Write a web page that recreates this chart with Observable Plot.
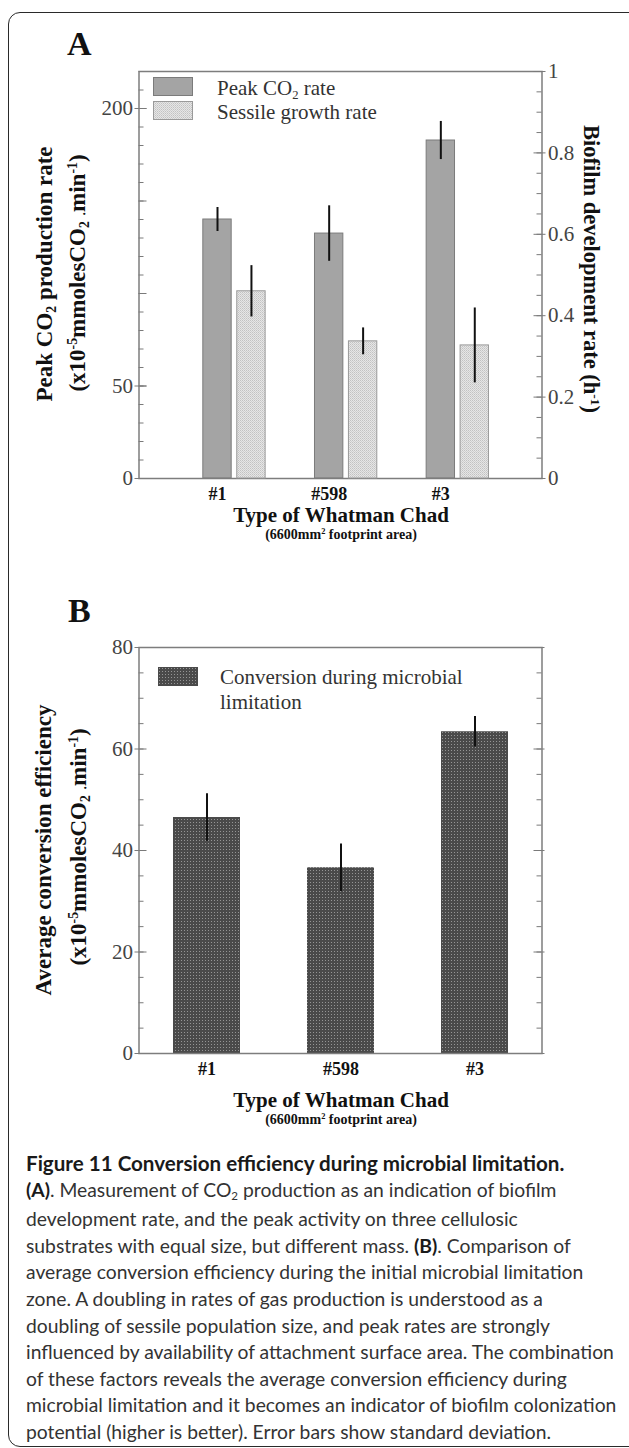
<!DOCTYPE html>
<html><head><meta charset="utf-8">
<script src="https://cdn.jsdelivr.net/npm/d3@7"></script>
<script src="https://cdn.jsdelivr.net/npm/@observablehq/plot@0.6"></script>
<style>
body{margin:0;background:#fff;}
#page{position:relative;width:629px;height:1448px;overflow:hidden;background:#fff;font-family:"Liberation Serif",serif;}
#box{position:absolute;left:8px;top:12px;width:680px;height:1435px;border:1.5px solid #2a2a2a;border-radius:12px;box-sizing:border-box;}
.abs{position:absolute;}
.plot{position:absolute;left:0;}
.rotL{position:absolute;white-space:nowrap;transform:translate(-50%,-50%) rotate(-90deg);font-weight:bold;font-size:23px;color:#111;line-height:1;}
.rotR{position:absolute;white-space:nowrap;transform:translate(-50%,-50%) rotate(90deg);font-weight:bold;font-size:22.5px;color:#111;line-height:1;}
.ctr{position:absolute;white-space:nowrap;transform:translate(-50%,-50%);font-weight:bold;color:#111;line-height:1;}
.sup{font-size:0.6em;position:relative;top:-0.55em;}
.sub{font-size:0.6em;position:relative;top:0.3em;}
.panel{position:absolute;font-weight:bold;font-size:34px;line-height:1;color:#111;}
.leg{position:absolute;white-space:nowrap;font-size:21px;color:#333;line-height:1;transform:translateY(-50%);}
#caption{position:absolute;left:26px;top:1150px;font-family:Lato,"Open Sans",sans-serif;font-size:19.3px;line-height:26.6px;color:#333;}
#caption div{white-space:nowrap;}
#caption b{color:#1a1a1a;}
#caption .title{font-size:20.6px;font-weight:bold;color:#1a1a1a;}
</style></head>
<body>
<div id="page">
<svg width="0" height="0" style="position:absolute">
  <defs>
    <pattern id="sessileFill" width="2" height="2" patternUnits="userSpaceOnUse">
      <rect width="2" height="2" fill="#e6e6e6"/>
      <rect width="1" height="1" fill="#c2c2c2"/>
      <rect x="1" y="1" width="1" height="1" fill="#cfcfcf"/>
    </pattern>
    <pattern id="convFill" width="3" height="3" patternUnits="userSpaceOnUse">
      <rect width="3" height="3" fill="#4a4a4a"/>
      <rect x="1" y="1" width="1" height="1" fill="#959595"/>
    </pattern>
  </defs>
</svg>
<div id="box"></div>
<div class="panel" style="left:67px;top:27px;">A</div>
<div class="panel" style="left:68px;top:594px;">B</div>
<div id="plotA" class="plot" style="top:50px;"></div>
<div id="plotA2" class="plot" style="top:50px;"></div>
<div id="plotB" class="plot" style="top:620px;"></div>

<!-- legend A -->
<svg class="abs" style="left:153px;top:77px;" width="40" height="19"><rect x="0.5" y="0.5" width="39" height="18" fill="#a4a4a4" stroke="#7b7b7b"/></svg>
<div class="leg" style="left:217px;top:88px;">Peak CO<span class="sub">2</span> rate</div>
<svg class="abs" style="left:153px;top:101px;" width="40" height="19"><rect x="0.5" y="0.5" width="39" height="18" fill="url(#sessileFill)" stroke="#9a9a9a"/></svg>
<div class="leg" style="left:217px;top:112px;">Sessile growth rate</div>
<!-- legend B -->
<svg class="abs" style="left:158px;top:667px;" width="40" height="19"><rect x="0" y="0" width="40" height="19" fill="url(#convFill)"/></svg>
<div class="leg" style="left:220px;top:677px;">Conversion during microbial</div>
<div class="leg" style="left:220px;top:702px;">limitation</div>

<!-- axis titles -->
<div class="rotL" style="left:44px;top:274px;">Peak CO<span class="sub">2</span> production rate</div>
<div class="rotL" style="left:77px;top:273px;">(x10<span class="sup">-5</span>mmolesCO<span class="sub">2</span> <span class="sub">∙</span>min<span class="sup">-1</span>)</div>
<div class="rotR" style="left:591px;top:269px;">Biofilm development rate (h<span class="sup">-1</span>)</div>
<div class="ctr" style="left:341px;top:515px;font-size:21px;">Type of Whatman Chad</div>
<div class="ctr" style="left:341px;top:535px;font-size:14px;">(6600mm<span class="sup">2</span> footprint area)</div>

<div class="rotL" style="left:43px;top:850px;">Average conversion efficiency</div>
<div class="rotL" style="left:78px;top:847px;">(x10<span class="sup">-5</span>mmolesCO<span class="sub">2</span> <span class="sub">∙</span>min<span class="sup">-1</span>)</div>
<div class="ctr" style="left:341px;top:1100px;font-size:21px;">Type of Whatman Chad</div>
<div class="ctr" style="left:341px;top:1120px;font-size:14px;">(6600mm<span class="sup">2</span> footprint area)</div>

<div id="caption">
<div class="title">Figure 11 Conversion efficiency during microbial limitation.</div>
<div><b>(A)</b>. Measurement of CO<span class="sub">2</span> production as an indication of biofilm</div>
<div>development rate, and the peak activity on three cellulosic</div>
<div>substrates with equal size, but different mass. <b>(B)</b>. Comparison of</div>
<div>average conversion efficiency during the initial microbial limitation</div>
<div>zone. A doubling in rates of gas production is understood as a</div>
<div>doubling of sessile population size, and peak rates are strongly</div>
<div>influenced by availability of attachment surface area. The combination</div>
<div>of these factors reveals the average conversion efficiency during</div>
<div>microbial limitation and it becomes an indicator of biofilm colonization</div>
<div>potential (higher is better). Error bars show standard deviation.</div>
</div>
</div>

<script>
// ---- data ----
const categories = ["#1", "#598", "#3"];
const peakCO2 = [140, 132.4, 182.7];
const peakCO2Sd = [6.5, 15, 10.3];
const sessileRate = [0.46, 0.337, 0.327];
const sessileSd = [0.063, 0.033, 0.092];
const conversion = [46.5, 36.6, 63.4];
const conversionSd = [4.7, 4.7, 3.0];

const leftLabelsA = [0, 50, 200];
const leftMajorA = [0, 50, 100, 150, 200];
const leftMinorA = d3.range(0, 221, 10);
const rightMajorA = [0, 0.2, 0.4, 0.6, 0.8, 1];
const rightMinorA = d3.range(0, 21).map(k => k * 0.05);
const leftMajorB = [0, 20, 40, 60, 80];
const leftMinorB = d3.range(0, 81, 5);

// ---- layout ----
const W = 629, ML = 138.5, MR = 87.5, FW = W - ML - MR;
const tableA = categories.map((c, i) => ({i, cat: c, peak: peakCO2[i], peakSd: peakCO2Sd[i], sessile: sessileRate[i], sessileSd: sessileSd[i]}));
const tableB = categories.map((c, i) => ({cat: c, conv: conversion[i], sd: conversionSd[i]}));
const half = 0.127, sessOff = 0.304;
const xDomA = [-0.703, 2.906];
const style = {fontFamily: "Liberation Serif, serif", fontSize: "21px", background: "transparent", overflow: "visible"};
const tickC = "#7a7a7a", labC = "#444";

const plotA = Plot.plot({
  width: W, height: 460, marginLeft: ML, marginRight: MR, marginTop: 21, marginBottom: 32,
  x: {domain: xDomA, axis: null},
  y: {domain: [0, 220], axis: null},
  style,
  marks: [
    Plot.rectY(tableA, {x1: d => d.i - half, x2: d => d.i + half, y: "peak", fill: "#a4a4a4", stroke: "#7b7b7b", strokeWidth: 1}),
    Plot.ruleX(tableA, {x: "i", y1: d => d.peak - d.peakSd, y2: d => d.peak + d.peakSd, stroke: "#111", strokeWidth: 2}),
    Plot.tickY(leftMinorA, {y: d => d, insetRight: FW - 5, stroke: tickC}),
    Plot.tickY(leftMajorA, {y: d => d, insetRight: FW - 8, stroke: tickC}),
    Plot.tickY(leftLabelsA, {y: d => d, insetLeft: -4, insetRight: FW - 8, stroke: tickC}),
    Plot.frame({stroke: "#7d7d7d", strokeWidth: 1.5}),
    Plot.axisY({ticks: leftLabelsA, anchor: "left", tickSize: 0, tickPadding: 6, fill: labC, fontSize: 21, label: null}),
    Plot.axisX({ticks: [0, 1, 2], tickFormat: i => categories[i], anchor: "bottom", tickSize: 0, tickPadding: 9, fontSize: 18, fontWeight: "bold", fill: "#111", label: null})
  ]
});
document.getElementById("plotA").appendChild(plotA);

const plotA2 = Plot.plot({
  width: W, height: 460, marginLeft: ML, marginRight: MR, marginTop: 21, marginBottom: 32,
  x: {domain: xDomA, axis: null},
  y: {domain: [0, 1], axis: null},
  style,
  marks: [
    Plot.rectY(tableA, {x1: d => d.i + sessOff - half, x2: d => d.i + sessOff + half, y: "sessile", fill: "url(#sessileFill)", stroke: "#9a9a9a", strokeWidth: 1}),
    Plot.ruleX(tableA, {x: d => d.i + sessOff, y1: d => d.sessile - d.sessileSd, y2: d => d.sessile + d.sessileSd, stroke: "#111", strokeWidth: 2}),
    Plot.tickY(rightMinorA, {y: d => d, insetLeft: FW - 5, stroke: tickC}),
    Plot.tickY(rightMajorA, {y: d => d, insetLeft: FW - 8, insetRight: -4, stroke: tickC}),
    Plot.axisY({ticks: rightMajorA, anchor: "right", tickSize: 0, tickPadding: 6, tickFormat: d3.format("~g"), fill: labC, fontSize: 21, label: null})
  ]
});
document.getElementById("plotA2").appendChild(plotA2);

const plotB = Plot.plot({
  width: W, height: 465, marginLeft: ML, marginRight: MR, marginTop: 27, marginBottom: 32,
  x: {domain: categories, paddingInner: 0.5, paddingOuter: 0.25, axis: null},
  y: {domain: [0, 80], axis: null},
  style,
  marks: [
    Plot.barY(tableB, {x: "cat", y: "conv", fill: "url(#convFill)"}),
    Plot.ruleX(tableB, {x: "cat", y1: d => d.conv - d.sd, y2: d => d.conv + d.sd, stroke: "#111", strokeWidth: 2}),
    Plot.tickY(leftMinorB, {y: d => d, insetRight: FW - 5, stroke: tickC}),
    Plot.tickY(leftMajorB, {y: d => d, insetLeft: -4, insetRight: FW - 8, stroke: tickC}),
    Plot.tickY(leftMinorB, {y: d => d, insetLeft: FW - 5, stroke: tickC}),
    Plot.tickY(leftMajorB, {y: d => d, insetLeft: FW - 8, insetRight: -3, stroke: tickC}),
    Plot.frame({stroke: "#7d7d7d", strokeWidth: 1.5}),
    Plot.axisY({ticks: leftMajorB, anchor: "left", tickSize: 0, tickPadding: 6, fill: labC, fontSize: 21, label: null}),
    Plot.axisX({anchor: "bottom", tickSize: 0, tickPadding: 9, fontSize: 18, fontWeight: "bold", fill: "#111", label: null})
  ]
});
document.getElementById("plotB").appendChild(plotB);
</script>
</body></html>
